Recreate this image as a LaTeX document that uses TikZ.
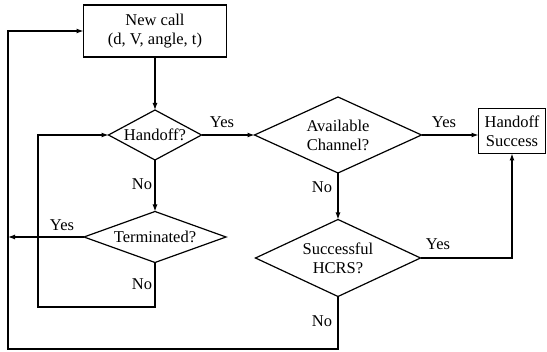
\documentclass[tikz,border=0pt]{standalone}
\usepackage{fontspec}
\setmainfont{Liberation Serif}
\usetikzlibrary{shapes.geometric,arrows.meta}
\begin{document}
\begin{tikzpicture}[x=1pt,y=-1pt,
  every node/.style={font=\fontsize{16.5}{19}\selectfont},
  box/.style={draw,line width=1.2pt,inner sep=0pt,outer sep=0pt,align=center},
  dia/.style={draw,diamond,line width=1.2pt,inner sep=0pt,outer sep=0pt},
  lbl/.style={inner sep=0pt},
  line/.style={line width=1.2pt},
  arr/.style={line width=1.2pt,-{Latex[length=7pt,width=5pt]}}]
\useasboundingbox (0,0) rectangle (547,352);
\node[box,minimum width=143pt,minimum height=52pt] (new) at (155,31) {New call\\(d, V, angle, t)};
\node[dia,minimum width=93pt,minimum height=50pt,label={center:Handoff?}] (hand) at (155,135) {};
\node[dia,minimum width=142pt,minimum height=51pt,label={center:Terminated?}] (term) at (155,237) {};
\node[dia,minimum width=167pt,minimum height=76pt,label={[align=center]center:Available\\Channel?}] (avail) at (338,135) {};
\node[dia,minimum width=165pt,minimum height=77pt,label={[align=center]center:Successful\\HCRS?}] (hcrs) at (338,258) {};
\node[box,minimum width=67pt,minimum height=45pt] (succ) at (512,131) {Handoff\\Success};
\coordinate (lb) at (8,349);
\coordinate (lt) at (8,31);
\coordinate (ib) at (38,307);
\coordinate (it) at (38,135);
\coordinate (ty) at (8,237);
% connectors
\draw[arr] (new) -- (hand);
\draw[arr] (hand) -- (term);
\draw[arr] (hand.east) -- (avail.west);
\draw[arr] (avail.east) -- (avail.east -| succ.west);
\draw[arr] (avail) -- (hcrs);
\draw[arr] (hcrs.east) -| (succ.south);
\draw[arr] (term.west) -- (ty);
\draw[arr] (term.south) |- (ib) -- (it) -- (hand.west);
\draw[arr] (hcrs.south) |- (lb) -- (lt) -- (new.west);
% labels
\node[lbl] (l1) at (222,122) {Yes};
\node[lbl] (l2) at (444,122) {Yes};
\node[lbl] (l3) at (322,187) {No};
\node[lbl] (l4) at (142,184) {No};
\node[lbl] (l5) at (62,225) {Yes};
\node[lbl] (l6) at (142,284) {No};
\node[lbl] (l7) at (438,244) {Yes};
\node[lbl] (l8) at (322,321) {No};
\end{tikzpicture}
\end{document}
